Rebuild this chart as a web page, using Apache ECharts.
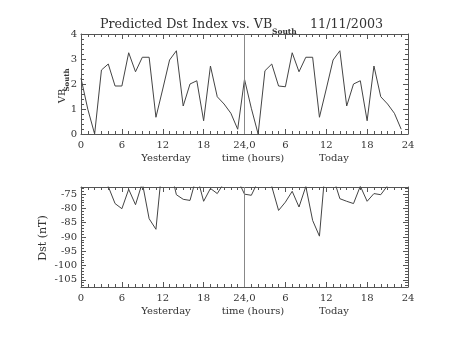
<!DOCTYPE html>
<html>
<head>
<meta charset="utf-8">
<script src="https://cdn.jsdelivr.net/npm/echarts@6/dist/echarts.min.js"></script>
<style>html,body{margin:0;padding:0;background:#fff;}#c{width:453px;height:340px;}</style>
</head>
<body>
<div id="c"></div>
<script>
// ---- data ----
const hours = [0,1,2,3,4,5,6,7,8,9,10,11,12,13,14,15,16,17,18,19,20,21,22,23,
               24,25,26,27,28,29,30,31,32,33,34,35,36,37,38,39,40,41,42,43,44,45,46,47];
const vbYesterday = [2.23,0.99,0.0,2.56,2.80,1.92,1.92,3.25,2.49,3.07,3.07,0.67,1.80,2.96,3.33,1.12,2.00,2.13,0.53,2.72,1.49,1.20,0.83,0.19];
const vbToday     = [2.19,1.03,0.0,2.53,2.80,1.92,1.89,3.25,2.49,3.07,3.07,0.67,1.80,2.96,3.33,1.12,2.00,2.13,0.53,2.72,1.49,1.20,0.83,0.19];
const dstYesterday = [-66,-64,-67,-70,-72.3,-78.3,-80.1,-73.3,-78.7,-71,-83.6,-87.3,-63,-65,-75.2,-76.8,-77.2,-68.5,-77.5,-73,-74.8,-71,-68,-70];
const dstToday     = [-75.0,-75.4,-70.5,-68,-72.3,-80.7,-77.8,-74.0,-79.5,-72.3,-84.2,-89.7,-62,-69,-76.6,-77.5,-78.3,-72.2,-77.5,-74.8,-75.2,-72,-70,-69];
const xTickLabels = ['0','6','12','18','24,0','6','12','18','24'];
const dayNames = ['Yesterday','time (hours)','Today'];
const titleMain = 'Predicted Dst Index vs. VB';
const titleSub = 'South';
const titleDate = '11/11/2003';

const vbAll = vbYesterday.concat(vbToday);
const dstAll = dstYesterday.concat(dstToday);

const AX = '#555', TXT = '#333', LN = '#444';
const FONT = 'DejaVu Serif';

function xAx(grid, show) {
  return {
    type: 'value', gridIndex: grid, min: 0, max: 48, interval: 6,
    position: show ? 'bottom' : 'top',
    axisLine: {show: true, onZero: false, lineStyle: {color: AX, width: 1}},
    axisTick: {show: true, inside: true, length: 5, lineStyle: {color: AX}},
    minorTick: {show: true, splitNumber: 6, length: 3, lineStyle: {color: AX}},
    splitLine: {show: false},
    axisLabel: {show: show, margin: 6, color: TXT, fontFamily: FONT, fontSize: 10,
      formatter: v => xTickLabels[Math.round(v / 6)]}
  };
}
function yAx(grid, show, min, max, extra) {
  return Object.assign({
    type: 'value', gridIndex: grid, min: min, max: max,
    position: show ? 'left' : 'right',
    axisLine: {show: true, onZero: false, lineStyle: {color: AX, width: 1}},
    axisTick: {show: true, inside: true, length: 5, lineStyle: {color: AX}},
    minorTick: {show: true, splitNumber: 5, length: 3, lineStyle: {color: AX}},
    splitLine: {show: false},
    axisLabel: {show: show, margin: 4, color: TXT, fontFamily: FONT, fontSize: 10}
  }, extra);
}

const vLine = {
  silent: true, symbol: 'none', label: {show: false},
  lineStyle: {color: '#888', type: 'solid', width: 1},
  data: [{xAxis: 24}]
};

const chart = echarts.init(document.getElementById('c'), null, {renderer: 'canvas'});
chart.setOption({
  animation: false,
  backgroundColor: '#fff',
  grid: [
    {left: 81, right: 45, top: 34, height: 100},
    {left: 81, right: 45, top: 187, height: 100}
  ],
  xAxis: [xAx(0, true), xAx(0, false), xAx(1, true), xAx(1, false)],
  yAxis: [
    yAx(0, true, 0, 4, {interval: 1}),
    yAx(0, false, 0, 4, {interval: 1}),
    yAx(1, true, -107.5, -72.5, {splitNumber: 7, axisLabel: {show: true, margin: 4, color: TXT, fontFamily: FONT, fontSize: 10, showMinLabel: false, showMaxLabel: false}}),
    yAx(1, false, -107.5, -72.5, {splitNumber: 7})
  ],
  series: [
    {type: 'line', xAxisIndex: 0, yAxisIndex: 0, symbol: 'none', clip: true,
     lineStyle: {color: LN, width: 1}, data: hours.map((h, i) => [h, vbAll[i]]), markLine: vLine},
    {type: 'line', xAxisIndex: 2, yAxisIndex: 2, symbol: 'none', clip: true,
     lineStyle: {color: LN, width: 1}, data: hours.map((h, i) => [h, dstAll[i]]), markLine: vLine}
  ],
  graphic: [
    {type: 'text', x: 100, y: 25, style: {text: titleMain, font: '12.7px "DejaVu Serif"', fill: TXT, textVerticalAlign: 'middle'}},
    {type: 'text', x: 272, y: 32, style: {text: titleSub, font: 'bold 7.5px "DejaVu Serif"', fill: TXT, textVerticalAlign: 'middle'}},
    {type: 'text', x: 310, y: 25, style: {text: titleDate, font: '12.7px "DejaVu Serif"', fill: TXT, textVerticalAlign: 'middle'}},
    {type: 'text', x: 62, y: 96, rotation: Math.PI / 2, style: {text: 'VB', font: '10px "DejaVu Serif"', fill: TXT, textAlign: 'center', textVerticalAlign: 'middle'}},
    {type: 'text', x: 67, y: 80, rotation: Math.PI / 2, style: {text: 'South', font: 'bold 7px "DejaVu Serif"', fill: TXT, textAlign: 'center', textVerticalAlign: 'middle'}},
    {type: 'text', x: 43, y: 238, rotation: Math.PI / 2, style: {text: 'Dst (nT)', font: '11px "DejaVu Serif"', fill: TXT, textAlign: 'center', textVerticalAlign: 'middle'}},
    {type: 'text', x: 166, y: 158, style: {text: dayNames[0], font: '10px "DejaVu Serif"', fill: TXT, textAlign: 'center', textVerticalAlign: 'middle'}},
    {type: 'text', x: 253, y: 158, style: {text: dayNames[1], font: '10px "DejaVu Serif"', fill: TXT, textAlign: 'center', textVerticalAlign: 'middle'}},
    {type: 'text', x: 334, y: 158, style: {text: dayNames[2], font: '10px "DejaVu Serif"', fill: TXT, textAlign: 'center', textVerticalAlign: 'middle'}},
    {type: 'text', x: 166, y: 311, style: {text: dayNames[0], font: '10px "DejaVu Serif"', fill: TXT, textAlign: 'center', textVerticalAlign: 'middle'}},
    {type: 'text', x: 253, y: 311, style: {text: dayNames[1], font: '10px "DejaVu Serif"', fill: TXT, textAlign: 'center', textVerticalAlign: 'middle'}},
    {type: 'text', x: 334, y: 311, style: {text: dayNames[2], font: '10px "DejaVu Serif"', fill: TXT, textAlign: 'center', textVerticalAlign: 'middle'}}
  ]
});
</script>
</body>
</html>
